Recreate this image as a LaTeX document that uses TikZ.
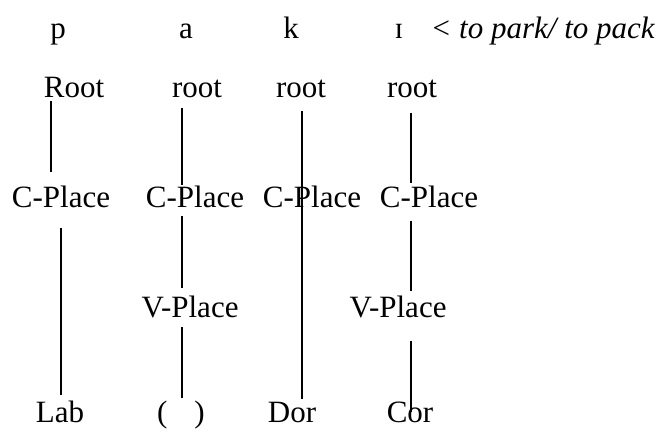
\documentclass[tikz,border=0pt]{standalone}
\usepackage{fontspec}
\setmainfont{Liberation Serif}
\usepackage{tikz}

\begin{document}
\begin{tikzpicture}[x=1pt,y=-1pt,line width=1.1pt,
                    font=\fontsize{31}{37}\selectfont,
                    every node/.style={inner sep=0pt,anchor=base}]
   \useasboundingbox (0,0) rectangle (661,432);
   % segments
   \node (segP) at (58,38) {p};
   \node (segA) at (186,38) {a};
   \node (segK) at (291,38) {k};
   \node (segI) at (399,38) {ɪ};
   \node[anchor=base west] (gloss) at (430,38) {\textit{< to park/ to pack}};
   % root row
   \node (rootP) at (74,97) {Root};
   \node (rootA) at (197,97) {root};
   \node (rootK) at (301,97) {root};
   \node (rootI) at (412,97) {root};
   % C-Place row
   \node (cPlaceP) at (61,207) {C-Place};
   \node (cPlaceA) at (195,207) {C-Place};
   \node (cPlaceK) at (312,207) {C-Place};
   \node (cPlaceI) at (429,207) {C-Place};
   % V-Place row
   \node (vPlaceA) at (190,317) {V-Place};
   \node (vPlaceI) at (398,317) {V-Place};
   % terminal features
   \node (labP) at (60,422) {Lab};
   \node (emptyA) at (181,422) {(\hspace{27pt})};
   \node (dorK) at (292,422) {Dor};
   \node (corI) at (410,422) {Cor};

    \path
    (rootP.south -| 51,0) edge [shorten <=3pt,shorten >=13pt] (cPlaceP.north -| 51,0)
    (cPlaceP.south -| 61,0) edge [shorten <=20pt,shorten >=5pt] (labP.north -| 61,0)
    (rootA.south -| 182,0) edge [shorten <=10pt] (cPlaceA.north -| 182,0)
    (cPlaceA.south -| 182,0) edge [shorten <=8pt,shorten >=7pt] (vPlaceA.north -| 182,0)
    (vPlaceA.south -| 182,0) edge [shorten <=9pt,shorten >=2pt] (emptyA.north -| 182,0)
    (rootK.south -| 302,0) edge [shorten <=13pt,shorten >=2pt] (dorK.north -| 302,0)
    (rootI.south -| 411,0) edge [shorten <=15pt,shorten >=2pt] (cPlaceI.north -| 411,0)
    (cPlaceI.south -| 411,0) edge [shorten <=13pt,shorten >=4pt] (vPlaceI.north -| 411,0)
    (vPlaceI.south -| 411,0) edge [shorten <=23pt,shorten >=-11pt] (corI.north -| 411,0);

\end{tikzpicture}
\end{document}
